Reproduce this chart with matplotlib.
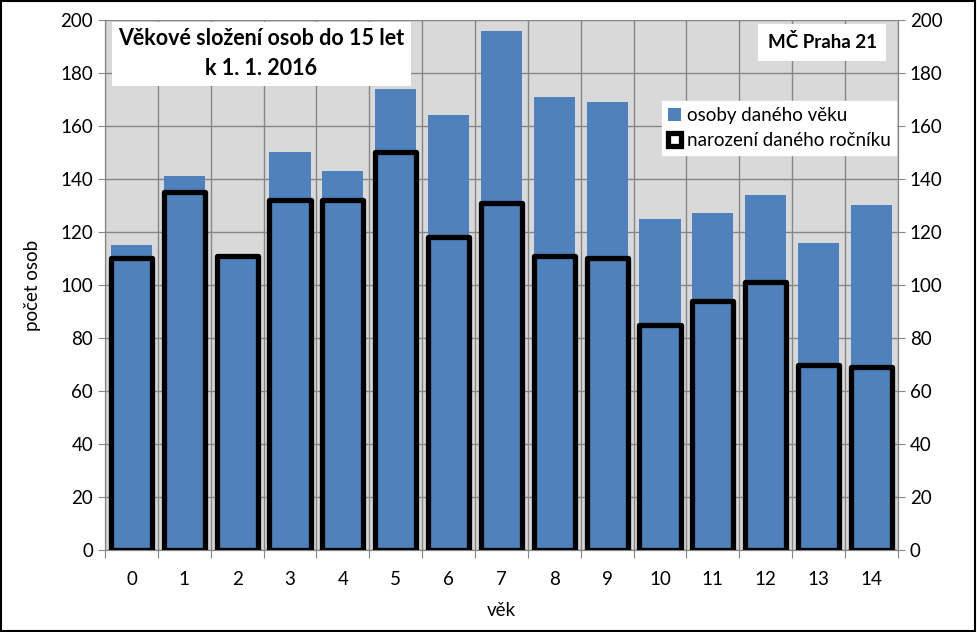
import matplotlib.pyplot as plt
import numpy as np
from matplotlib.patches import Rectangle

plt.rcParams['font.family'] = ['Lato', 'DejaVu Sans']

# data
vek = list(range(15))
osoby = [115, 141, 111, 150, 143, 174, 164, 196, 171, 169, 125, 127, 134, 116, 130]
narozeni = [110, 135, 111, 132, 132, 150, 118, 131, 111, 110, 85, 94, 101, 70, 69]

modra = '#4f81bd'
seda = '#868686'
fs = 13.5

fig = plt.figure(figsize=(9.77, 6.32), dpi=100)
ax = fig.add_axes([0.1075, 0.1297, 0.8115, 0.8387])
ax.set_facecolor('#d9d9d9')

x = np.arange(len(vek))
ax.bar(x, osoby, width=0.78, color=modra, zorder=2, label='osoby daného věku')
ax2 = ax.twinx()
ax2.bar(x, narozeni, width=0.78, facecolor='none', edgecolor='black',
        linewidth=3.8, joinstyle='round', zorder=3, label='narození daného ročníku')

for a in (ax, ax2):
    a.set_ylim(0, 200)
    a.set_yticks(range(0, 201, 20))
    a.set_xlim(-0.5, 14.5)
    for s in a.spines.values():
        s.set_color(seda)
    a.tick_params(axis='y', length=5, color=seda, labelsize=fs)
ax.spines['top'].set_visible(False)
ax2.spines['top'].set_visible(False)

ax.set_xticks(np.arange(-0.5, 15, 1))
ax.set_xticklabels([])
ax.set_xticks(x, minor=True)
ax.set_xticklabels([str(v) for v in vek], minor=True)
ax.tick_params(axis='x', which='major', length=6, color=seda)
ax.tick_params(axis='x', which='minor', length=0, labelsize=fs, pad=15)

ax.grid(True, which='major', color=seda, linewidth=1, zorder=0)
ax.set_axisbelow(True)

ax.set_ylabel('počet osob', fontsize=fs, labelpad=14)
ax.set_xlabel('věk', fontsize=fs, labelpad=10)

# title box
fig.text(0.2675, 0.915, 'Věkové složení osob do 15 let\nk 1. 1. 2016', ha='center', va='center',
         fontsize=15.5, fontweight='bold', linespacing=1.55,
         bbox=dict(facecolor='white', edgecolor='none', boxstyle='square,pad=0.3'))
fig.text(0.8415, 0.933, 'MČ Praha 21', ha='center', va='center', fontsize=fs, fontweight='bold',
         bbox=dict(facecolor='white', edgecolor='none', boxstyle='square,pad=0.5'))

h1, l1 = ax.get_legend_handles_labels()
h2, l2 = ax2.get_legend_handles_labels()
leg = ax2.legend(h1 + h2, l1 + l2, loc='upper right', bbox_to_anchor=(1.0, 0.85),
                 fontsize=fs, frameon=True, fancybox=False, edgecolor='white',
                 framealpha=1, handlelength=0.7, handleheight=0.7, handletextpad=0.3,
                 borderpad=0.3, labelspacing=0.45, borderaxespad=0.1)

fig.patches.append(Rectangle((0.001, 0.001), 0.997, 0.997, transform=fig.transFigure,
                             fill=False, edgecolor='black', linewidth=1.5))

fig.savefig('out.png', dpi=100)
